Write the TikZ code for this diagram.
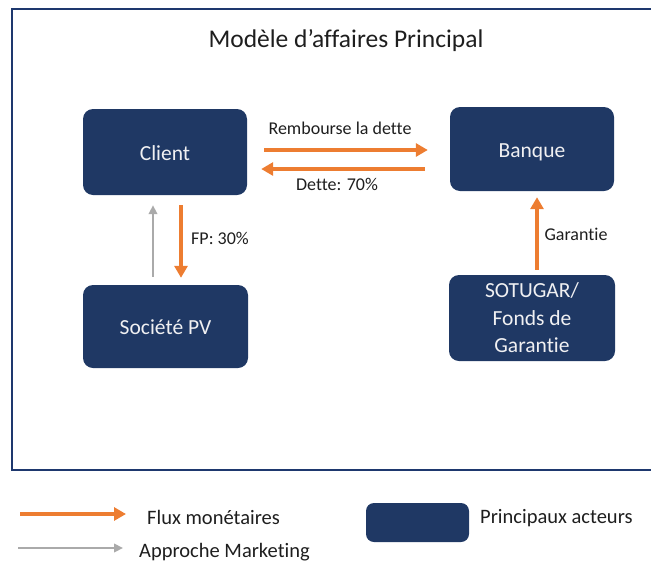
\documentclass[tikz,border=0pt]{standalone}
\usepackage{fontspec}
\setmainfont{Carlito}[Ligatures=CommonOff]
\usetikzlibrary{arrows.meta}
\definecolor{navy}{RGB}{31,56,100}
\definecolor{framecol}{RGB}{30,56,110}
\definecolor{boxtext}{RGB}{240,240,242}
\definecolor{flux}{RGB}{237,125,49}
\definecolor{mkgray}{RGB}{170,170,170}
\definecolor{labeltext}{RGB}{30,30,30}
\begin{document}
\begin{tikzpicture}[x=1pt,y=-1pt,
  actor/.style={draw=none, fill=navy, rounded corners=10pt, text=boxtext,
    font=\fontsize{21.5}{27.5}\selectfont, align=center, inner sep=0pt},
  oneline/.style={text height=16.5pt, text depth=0pt},
  money/.style={draw=flux, line width=4pt, -{Triangle[length=12pt,width=13pt]}},
  marketing/.style={draw=mkgray, line width=2.5pt, -{Triangle[length=9pt,width=8.5pt]}},
  lbl/.style={text=labeltext, font=\fontsize{18}{22}\selectfont, inner sep=0pt},
  legtxt/.style={text=labeltext, font=\fontsize{20.5}{24}\selectfont, inner sep=0pt, anchor=base west}]
\useasboundingbox (0,0) rectangle (651,563);
\clip (0,0) rectangle (651,563);

% outer frame (runs past the right edge)
\draw[draw=framecol, line width=2.5pt] (12,9) rectangle (700,470);

% title
\node[text=labeltext, font=\fontsize{25.5}{30}\selectfont, inner sep=0pt, anchor=base] (title) at (346,47) {Modèle d’affaires Principal};

% actors
\node[actor, oneline, minimum width=164pt, minimum height=86pt] (client) at (165,152) {Client};
\node[actor, oneline, minimum width=164pt, minimum height=84pt] (banque) at (532,149) {Banque};
\node[actor, oneline, minimum width=165pt, minimum height=83pt] (societe) at (165.5,326.5) {Société PV};
\node[actor, minimum width=166pt, minimum height=86pt] (sotugar) at (532,318) {SOTUGAR/\\Fonds de\\Garantie};

% flows
\draw[money, shorten <=17pt, shorten >=22pt] ([yshift=2pt]client.east) -- ([yshift=-1pt]banque.west);
\draw[money, shorten <=25pt, shorten >=14pt] ([yshift=-20pt]banque.west) -- ([yshift=-17pt]client.east);
\draw[money, shorten <=10pt, shorten >=7pt] ([xshift=16pt]client.south) -- ([xshift=15.5pt]societe.north);
\draw[marketing, shorten <=8pt, shorten >=10pt] ([xshift=-12.5pt]societe.north) -- ([xshift=-12pt]client.south);
\draw[money, shorten <=5pt, shorten >=6pt] ([xshift=5pt]sotugar.north) -- ([xshift=5pt]banque.south);

% flow labels
\node[lbl, anchor=base] (l1) at (340,134) {Rembourse la dette};
\node[lbl, anchor=base] (l2) at (337,190) {Dette: 70\%};
\node[lbl, anchor=base] (l3) at (220,244) {FP: 30\%};
\node[lbl, anchor=base] (l4) at (576,240) {Garantie};

% legend
\coordinate (lf1) at (20,514);
\coordinate (lf2) at (126,514);
\coordinate (lm1) at (18,548);
\coordinate (lm2) at (123,548);
\draw[money, line width=3.5pt] (lf1) -- (lf2);
\draw[marketing] (lm1) -- (lm2);
\node[legtxt] (t1) at (147,524) {Flux monétaires};
\node[legtxt] (t2) at (139,557) {Approche Marketing};
\node[actor, minimum width=103pt, minimum height=39pt, rounded corners=8pt] (lbox) at (417.5,522.5) {};
\node[legtxt] (t3) at (480,523) {Principaux acteurs};
\end{tikzpicture}
\end{document}
